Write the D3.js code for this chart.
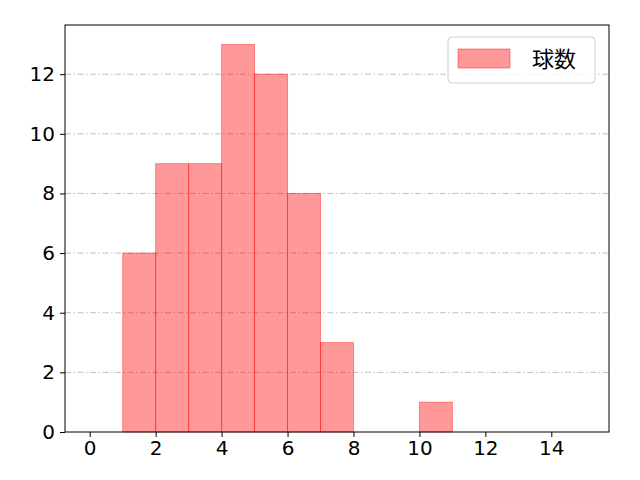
<!DOCTYPE html>
<html>
  <head>
    <meta charset="utf-8">
    <script src="https://cdn.jsdelivr.net/npm/d3@7"></script>
    <style>
      body { margin: 0; background: #fff; }
      text { font-family: "DejaVu Sans", sans-serif; }
      .tick text { font-size: 20px; }
    </style>
  </head>
  <body>
    <svg width="640" height="480" id="mainsvg"></svg>
    <script>
      // histogram bins (left edge, right edge) and counts
      const binStart = [1, 2, 3, 4, 5, 6, 7, 10];
      const binEnd   = [2, 3, 4, 5, 6, 7, 8, 11];
      const counts   = [6, 9, 9, 13, 12, 8, 3, 1];
      const xTicks = [0, 2, 4, 6, 8, 10, 12, 14];
      const yTicks = [0, 2, 4, 6, 8, 10, 12];
      const seriesName = '球数';

      const svg = d3.select('#mainsvg');
      const margin = {top: 25, right: 31, bottom: 48, left: 65};
      const innerWidth = 640 - margin.left - margin.right;
      const innerHeight = 480 - margin.top - margin.bottom;
      const g = svg.append('g')
        .attr('transform', `translate(${margin.left}, ${margin.top})`);

      const xScale = d3.scaleLinear().domain([-0.75, 15.75]).range([0, innerWidth]);
      const yScale = d3.scaleLinear().domain([0, 13.65]).range([innerHeight, 0]);

      // grid
      g.selectAll('.grid').data(yTicks.slice(1)).join('line')
        .attr('class', 'grid')
        .attr('x1', 0).attr('x2', innerWidth)
        .attr('y1', d => yScale(d)).attr('y2', d => yScale(d))
        .attr('stroke', '#b0b0b0').attr('stroke-width', 0.8)
        .attr('stroke-dasharray', '6,2.5,1.5,2.5');

      const bins = counts.map((c, i) => ({x0: binStart[i], x1: binEnd[i], c}));
      g.selectAll('.bar').data(bins).join('rect')
        .attr('class', 'bar')
        .attr('x', d => xScale(d.x0))
        .attr('width', d => xScale(d.x1) - xScale(d.x0))
        .attr('y', d => yScale(d.c))
        .attr('height', d => yScale(0) - yScale(d.c))
        .attr('fill', 'red').attr('fill-opacity', 0.4)
        .attr('stroke', 'red').attr('stroke-opacity', 0.4).attr('stroke-width', 1);

      const xAxis = d3.axisBottom(xScale).tickValues(xTicks).tickSize(5).tickPadding(4);
      const yAxis = d3.axisLeft(yScale).tickValues(yTicks).tickSize(5).tickPadding(5);
      const xg = g.append('g').attr('transform', `translate(0, ${innerHeight})`).call(xAxis);
      const yg = g.append('g').call(yAxis);
      [xg, yg].forEach(a => {
        a.attr('font-size', 20).attr('font-family', 'DejaVu Sans');
        a.select('.domain').remove();
        a.selectAll('line').attr('stroke', '#000').attr('stroke-width', 1);
        a.selectAll('text').attr('fill', '#000').attr('font-size', 20);
      });

      g.append('rect')
        .attr('width', innerWidth).attr('height', innerHeight)
        .attr('fill', 'none').attr('stroke', '#000').attr('stroke-width', 1);

      // legend
      const lg = g.append('g').attr('transform', `translate(${448 - margin.left}, ${37 - margin.top})`);
      lg.append('rect')
        .attr('width', 147).attr('height', 46).attr('rx', 4)
        .attr('fill', '#fff').attr('fill-opacity', 0.8)
        .attr('stroke', '#d0d0d0');
      lg.append('rect')
        .attr('x', 10).attr('y', 12).attr('width', 52).attr('height', 19)
        .attr('fill', 'red').attr('fill-opacity', 0.4)
        .attr('stroke', 'red').attr('stroke-opacity', 0.4);
      lg.append('text')
        .attr('x', 84).attr('y', 30)
        .style('font-size', '22px').attr('fill', '#000')
        .style('font-family', '"Noto Sans CJK JP", sans-serif')
        .text(seriesName);
    </script>
  </body>
</html>
